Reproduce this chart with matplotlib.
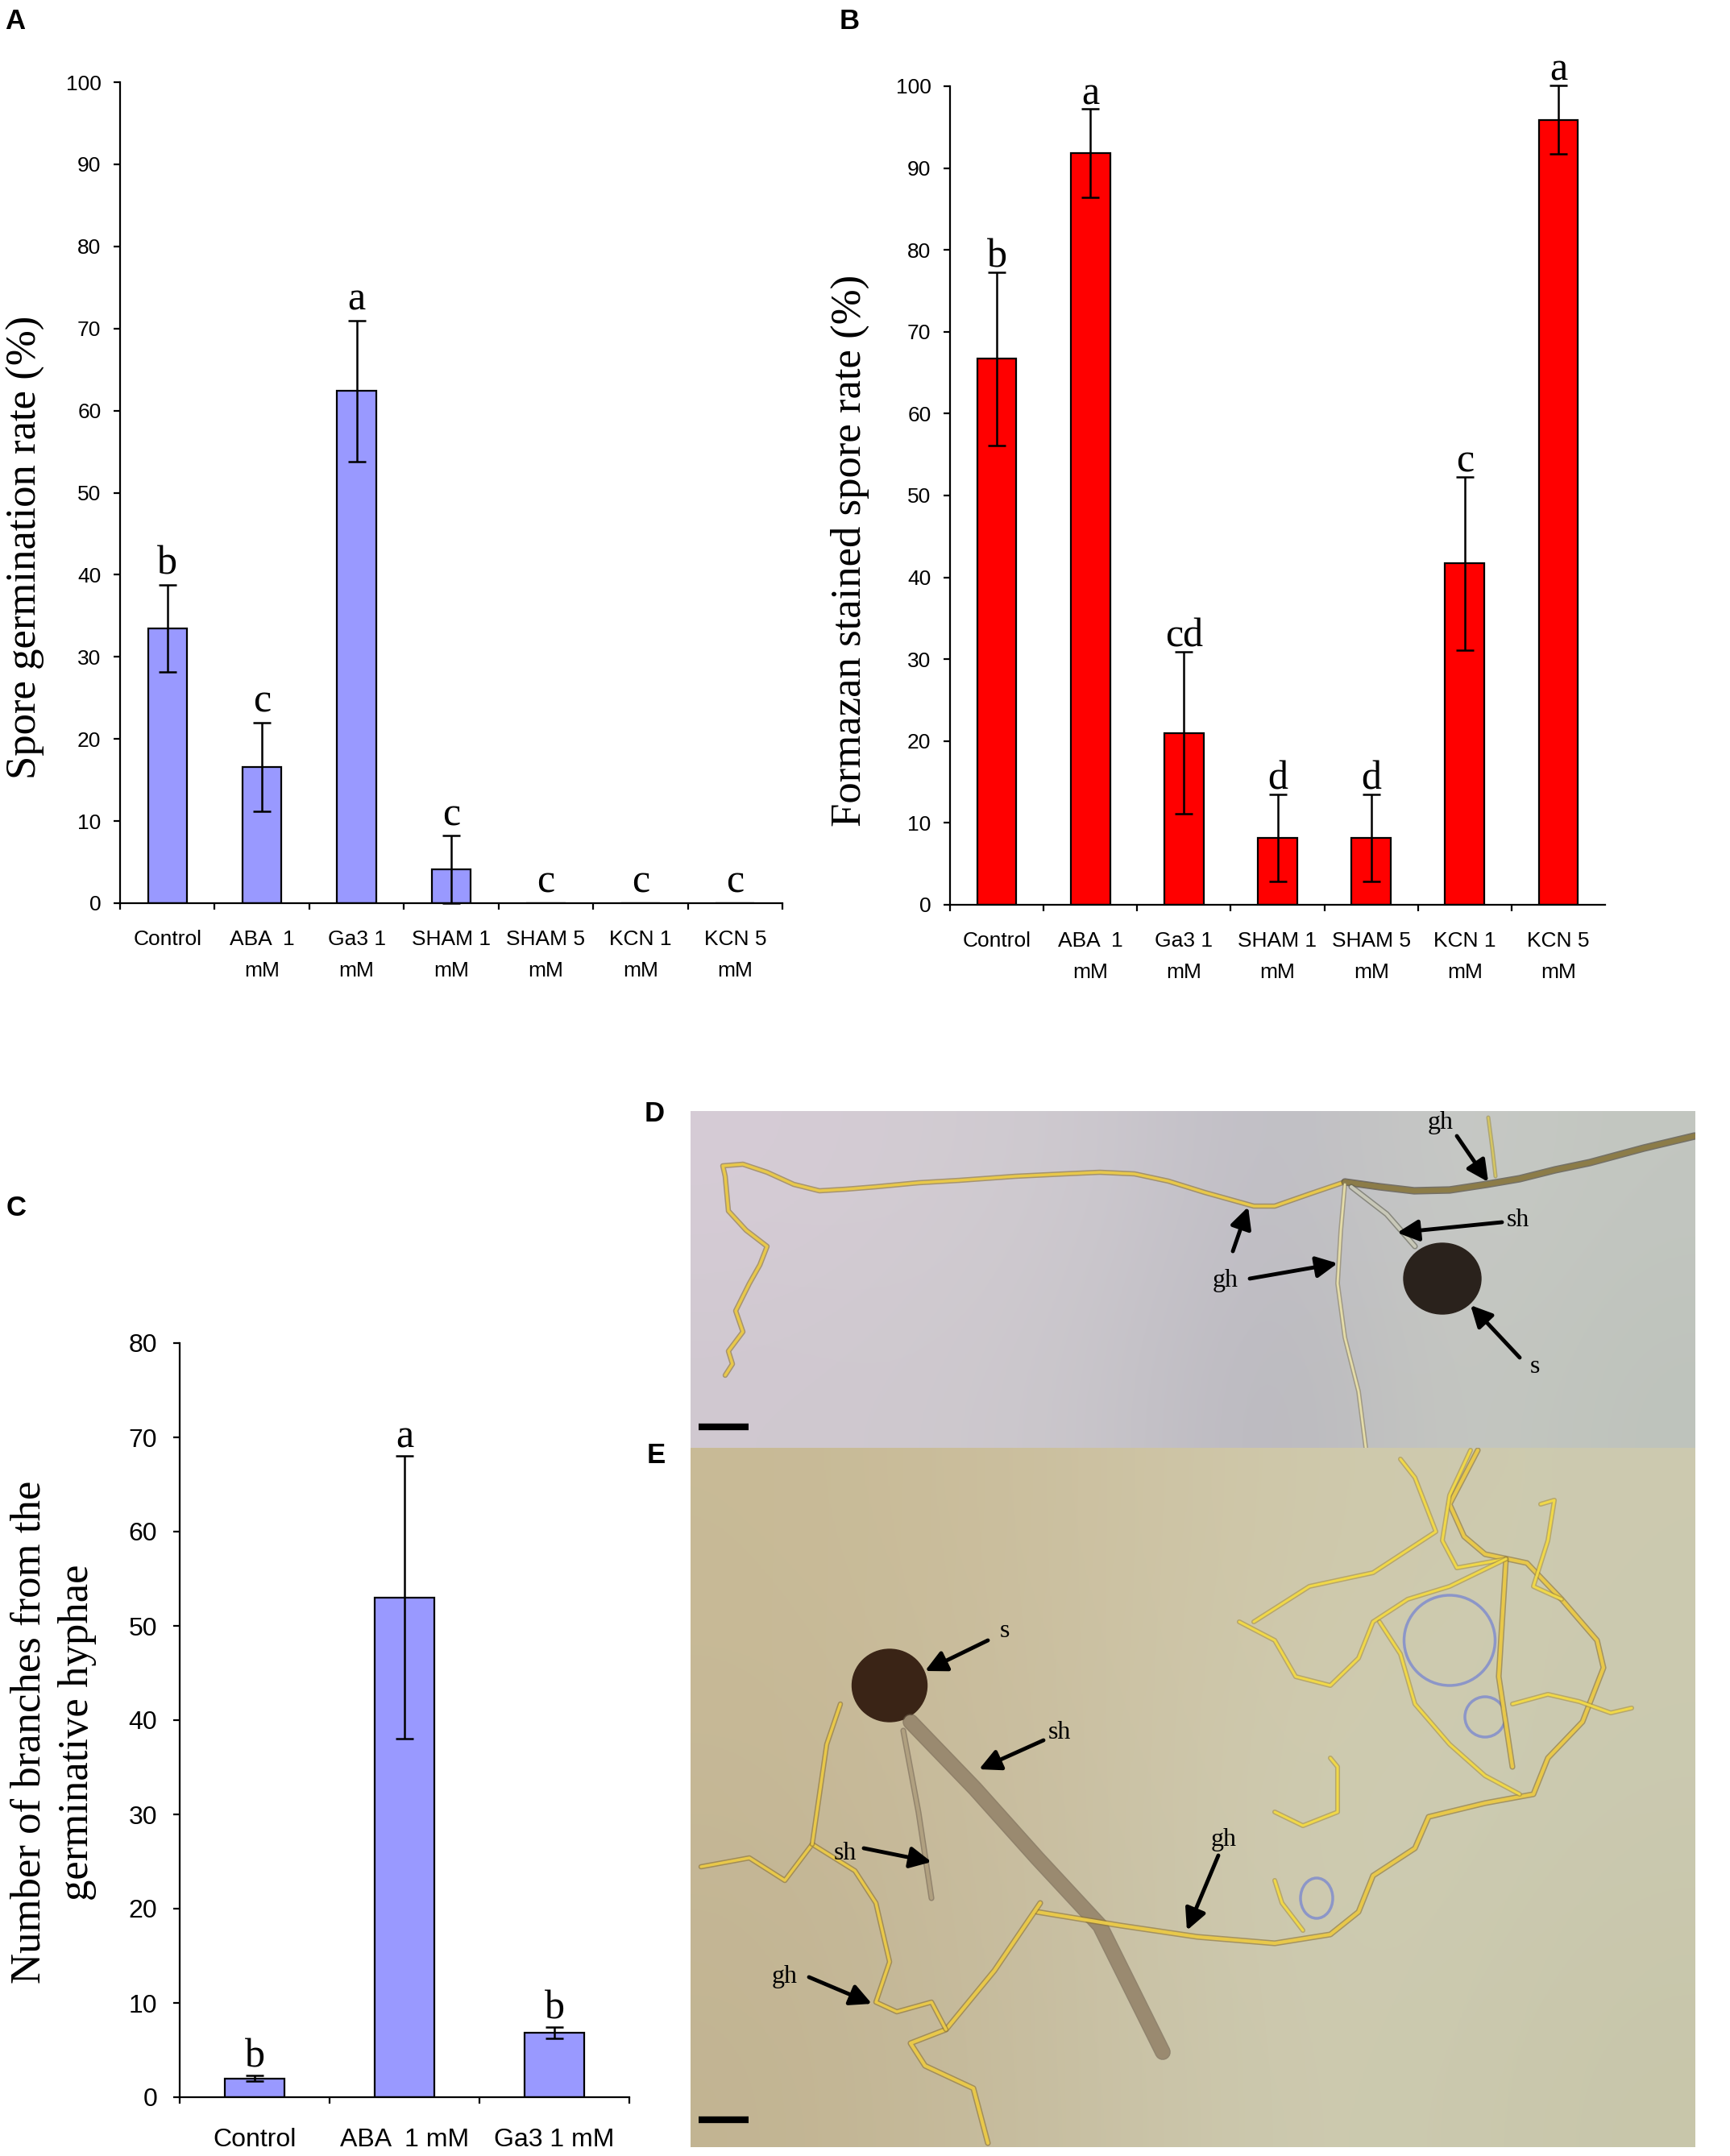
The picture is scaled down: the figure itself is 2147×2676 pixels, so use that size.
import numpy as np
import matplotlib.pyplot as plt
from matplotlib.patches import Ellipse

plt.rcParams['font.family'] = ['Liberation Sans', 'DejaVu Sans']

W, H = 2147, 2676

# ---- panel A: spore germination ----
germ_labels = ['Control', 'ABA  1\nmM', 'Ga3 1\nmM', 'SHAM 1\nmM', 'SHAM 5\nmM', 'KCN 1\nmM', 'KCN 5\nmM']
germ_mean = [33.5, 16.6, 62.4, 4.1, 0, 0, 0]
germ_err = [5.3, 5.4, 8.6, 4.1, 0, 0, 0]
germ_letters = ['b', 'c', 'a', 'c', 'c', 'c', 'c']

# ---- panel B: formazan stained spores ----
form_labels = germ_labels
form_mean = [66.7, 91.8, 21.0, 8.2, 8.2, 41.7, 95.9]
form_err = [10.6, 5.4, 9.9, 5.3, 5.3, 10.6, 4.2]
form_letters = ['b', 'a', 'cd', 'd', 'd', 'c', 'a']

# ---- panel C: branches from germinative hyphae ----
branch_labels = ['Control', 'ABA  1 mM', 'Ga3 1 mM']
branch_mean = [2.0, 53.0, 6.8]
branch_err = [0.3, 15.0, 0.6]
branch_letters = ['b', 'a', 'b']

BLUE = '#9999ff'
RED = '#ff0000'
SERIF = 'Liberation Serif'

fig = plt.figure(figsize=(W / 100, H / 100), dpi=100)


def px_axes(x0, y0, x1, y1):
    # axes from pixel box (top-left origin)
    return fig.add_axes([x0 / W, 1 - y1 / H, (x1 - x0) / W, (y1 - y0) / H])


def bar_panel(ax, labels, means, errs, letters, color, ymax, ystep, width,
              fs_tick, letter_pad, xpad, ypad, end_tick=True):
    n = len(labels)
    x = np.arange(n)
    ax.bar(x, means, width=width, color=color, edgecolor='black', linewidth=1.6, zorder=2)
    idx = [i for i in range(n) if errs[i] > 0]
    eb = ax.errorbar([x[i] for i in idx], [means[i] for i in idx],
                     yerr=[errs[i] for i in idx], fmt='none', ecolor='black',
                     elinewidth=1.8, capsize=8, capthick=1.8, zorder=3)
    for part in list(eb[1]) + list(eb[2]):
        part.set_clip_on(False)
    for i in range(n):
        ax.text(x[i], means[i] + errs[i] + letter_pad, letters[i], ha='center',
                va='baseline', fontsize=36, family=SERIF)
    ax.set_xlim(-0.5, n - 0.5)
    ax.set_ylim(0, ymax)
    edges = np.arange(n + 1) - 0.5
    ax.set_xticks(edges if end_tick else edges[:-1])
    ax.set_xticklabels([])
    ax.set_xticks(x, minor=True)
    ax.set_xticklabels(labels, minor=True, fontsize=fs_tick, linespacing=1.75)
    ax.tick_params(axis='x', which='minor', length=0, pad=xpad)
    ax.tick_params(axis='x', which='major', length=6, width=1.6, direction='out')
    ax.set_yticks(np.arange(0, ymax + 1, ystep))
    ax.tick_params(axis='y', length=6, width=1.6, labelsize=fs_tick, pad=ypad)
    for s in ['top', 'right']:
        ax.spines[s].set_visible(False)
    for s in ['left', 'bottom']:
        ax.spines[s].set_linewidth(1.6)


axA = px_axes(149, 102, 971, 1121)
bar_panel(axA, germ_labels, germ_mean, germ_err, germ_letters, BLUE,
          100, 10, 0.41, 19, 1.3, 24, 11)
fig.text(32 / W, 1 - 679 / H, 'Spore germination rate (%)', rotation=90,
         ha='center', va='center', fontsize=38, family=SERIF)

axB = px_axes(1179, 107, 1992, 1123)
bar_panel(axB, form_labels, form_mean, form_err, form_letters, RED,
          100, 10, 0.42, 19, 0.6, 24, 11, end_tick=False)
fig.text(1055 / W, 1 - 683 / H, 'Formazan stained spore rate (%)', rotation=90,
         ha='center', va='center', fontsize=38, family=SERIF)

axC = px_axes(223, 1667, 781, 2603)
bar_panel(axC, branch_labels, branch_mean, branch_err, branch_letters, BLUE,
          80, 10, 0.40, 23, 0.9, 27, 14)
fig.text(66 / W, 1 - 2150 / H, 'Number of branches from the\ngerminative hyphae',
         rotation=90, ha='center', va='center', fontsize=38, family=SERIF,
         linespacing=1.3, multialignment='center')

# ---- panels D and E: micrographs (sketched) ----
D_box = (857, 1379, 2104, 1797)
E_box = (857, 1797, 2104, 2665)

D_bg = np.array([[[214, 204, 214], [210, 204, 210], [204, 200, 206], [190, 188, 196], [200, 202, 198], [194, 198, 192]],
                 [[208, 200, 208], [206, 201, 206], [200, 197, 202], [184, 182, 190], [198, 200, 194], [190, 195, 188]]]) / 255
E_bg = np.array([[[200, 186, 150], [204, 192, 160], [208, 202, 172], [204, 202, 176]],
                 [[197, 183, 150], [202, 191, 162], [208, 206, 180], [202, 201, 176]],
                 [[194, 180, 146], [200, 191, 162], [206, 204, 178], [200, 198, 170]]]) / 255

D_main = np.array([[900, 1707], [909, 1693], [904, 1677], [922, 1653], [913, 1627], [930, 1593],
                   [943, 1570], [952, 1547], [926, 1527], [904, 1503], [900, 1460], [897, 1447],
                   [922, 1445], [952, 1455], [985, 1470], [1017, 1478], [1050, 1476], [1087, 1473],
                   [1140, 1468], [1191, 1465], [1260, 1460], [1321, 1457], [1365, 1455],
                   [1408, 1457], [1450, 1466], [1495, 1480], [1556, 1497], [1582, 1497],
                   [1625, 1482], [1669, 1467], [1712, 1473]])
D_dark = np.array([[1669, 1467], [1712, 1473], [1755, 1478], [1799, 1477], [1845, 1470], [1886, 1463],
                   [1930, 1452], [1973, 1443], [2040, 1425], [2103, 1410]])
D_vert = np.array([[1669, 1470], [1664, 1527], [1660, 1593], [1669, 1660], [1686, 1727], [1695, 1797]])
D_sh = np.array([[1677, 1473], [1721, 1507], [1756, 1547]])
D_thin = np.array([[1847, 1387], [1852, 1425], [1856, 1460]])

E_stalk = np.array([[1130, 2137], [1210, 2220], [1287, 2306], [1365, 2390], [1443, 2547]])
E_sh2 = np.array([[1121, 2148], [1140, 2250], [1156, 2356]])
E_gh = np.array([[1287, 2373], [1391, 2390], [1486, 2404], [1582, 2412], [1651, 2401], [1686, 2373],
                 [1704, 2328], [1756, 2294], [1773, 2255], [1843, 2238], [1903, 2227], [1921, 2182],
                 [1964, 2137], [1990, 2070], [1982, 2036], [1938, 1985], [1895, 1940], [1843, 1929],
                 [1817, 1907], [1799, 1867], [1834, 1800]])
E_branch = np.array([[1869, 1935], [1860, 2081], [1877, 2193]])
E_left = np.array([[1291, 2362], [1234, 2446], [1174, 2519], [1130, 2536], [1148, 2564], [1208, 2592], [1226, 2660]])
E_tangle = np.array([[870, 2317], [930, 2306], [974, 2334], [1008, 2289], [1061, 2322], [1087, 2362],
                     [1104, 2435], [1087, 2485], [1113, 2497], [1156, 2485], [1174, 2519]])
E_tangle2 = np.array([[1008, 2289], [1017, 2227], [1026, 2165], [1043, 2115]])
E_net = [np.array([[1556, 2013], [1625, 1969], [1704, 1952], [1782, 1901], [1756, 1834], [1738, 1811]]),
         np.array([[1825, 1800], [1799, 1856], [1790, 1912], [1808, 1946], [1869, 1935]]),
         np.array([[1912, 1867], [1929, 1862], [1921, 1912], [1903, 1969], [1938, 1985]]),
         np.array([[1538, 2013], [1582, 2036], [1608, 2081], [1651, 2092], [1686, 2058], [1704, 2013],
                   [1747, 1985], [1799, 1969], [1869, 1935]]),
         np.array([[1712, 2013], [1738, 2053], [1756, 2115], [1799, 2165], [1843, 2204], [1886, 2227]]),
         np.array([[1877, 2115], [1921, 2103], [1960, 2112], [1999, 2126], [2025, 2120]]),
         np.array([[1582, 2249], [1617, 2266], [1660, 2249], [1660, 2193], [1651, 2182]]),
         np.array([[1582, 2334], [1591, 2362], [1617, 2396]])]
E_halo = [((1799, 2036), 113, 112), ((1843, 2131), 50, 50), ((1634, 2356), 40, 50)]

D_notes = [('gh', (1788, 1393), (1808, 1410), (1847, 1467)),
           ('', None, (1530, 1553), (1549, 1498)),
           ('gh', (1521, 1590), (1551, 1587), (1660, 1568)),
           ('sh', (1884, 1515), (1864, 1517), (1734, 1530)),
           ('s', (1905, 1697), (1886, 1685), (1825, 1620))]
E_notes = [('s', (1247, 2025), (1226, 2036), (1148, 2074)),
           ('sh', (1315, 2151), (1295, 2160), (1215, 2196)),
           ('sh', (1049, 2300), (1072, 2294), (1156, 2311)),
           ('gh', (1519, 2283), (1512, 2303), (1473, 2396)),
           ('gh', (974, 2454), (1004, 2454), (1082, 2487))]


def hypha(ax, pts, col='#e8c84a', edge='#8a7030', lw=3.0):
    ax.plot(pts[:, 0], pts[:, 1], color=edge, lw=lw + 2.2, solid_capstyle='round', alpha=0.6)
    ax.plot(pts[:, 0], pts[:, 1], color=col, lw=lw, solid_capstyle='round')


def photo(box, bg):
    x0, y0, x1, y1 = box
    ax = px_axes(x0, y0, x1, y1)
    ax.imshow(bg, extent=(x0, x1, y1, y0), aspect='auto', interpolation='bicubic')
    ax.set_xlim(x0, x1)
    ax.set_ylim(y1, y0)
    ax.axis('off')
    return ax


def notes(ax, items):
    for txt, tpos, tail, head in items:
        ax.annotate('', xy=head, xytext=tail,
                    arrowprops=dict(arrowstyle='-|>', color='black', lw=3.5,
                                    mutation_scale=40, shrinkA=0, shrinkB=0))
        if txt:
            ax.text(tpos[0], tpos[1], txt, ha='center', va='center', fontsize=23, family=SERIF)


axD = photo(D_box, D_bg)
hypha(axD, D_main, lw=2.5)
hypha(axD, D_dark, col='#8c7c48', edge='#40382a', lw=4.5)
hypha(axD, D_vert, col='#e4dca8', edge='#8a8060', lw=2)
hypha(axD, D_sh, col='#c8c8b8', edge='#606050', lw=3)
hypha(axD, D_thin, col='#d8c860', edge='#a09040', lw=1.5)
axD.add_patch(Ellipse((1790, 1587), 96, 88, color='#2a221c'))
axD.plot([867, 929], [1771, 1771], color='black', lw=6, solid_capstyle='butt')
notes(axD, D_notes)

axE = photo(E_box, E_bg)
for (cx, cy), ew, eh in E_halo:
    axE.add_patch(Ellipse((cx, cy), ew, eh, fill=False, edgecolor='#8c96c8', lw=2.5))
hypha(axE, E_stalk, col='#9a8a70', edge='#6a5a48', lw=12)
hypha(axE, E_sh2, col='#b0a080', edge='#706050', lw=3)
hypha(axE, E_gh)
hypha(axE, E_branch)
hypha(axE, E_left)
hypha(axE, E_tangle, lw=2.5)
hypha(axE, E_tangle2, lw=2.5)
for path in E_net:
    hypha(axE, path, col='#f0d848', edge='#a89040', lw=2.2)
axE.add_patch(Ellipse((1104, 2092), 93, 90, color='#3a2416'))
axE.plot([867, 929], [2631, 2631], color='black', lw=6, solid_capstyle='butt')
notes(axE, E_notes)

# panel letters
for lab, (px, py) in zip('ABCDE', [(6, 10), (1042, 10), (8, 1483), (800, 1366), (803, 1790)]):
    fig.text(px / W, 1 - py / H, lab, ha='left', va='top', fontsize=25, fontweight='bold')

fig.savefig('out.png', dpi=100)
